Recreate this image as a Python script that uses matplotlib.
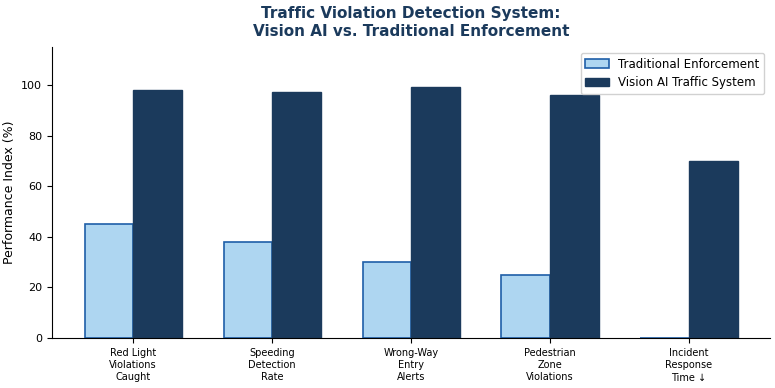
import numpy as np
import matplotlib.pyplot as plt

# Chart data
categories = ["Red Light\nViolations\nCaught", "Speeding\nDetection\nRate",
              "Wrong-Way\nEntry\nAlerts", "Pedestrian\nZone\nViolations",
              "Incident\nResponse\nTime \u2193"]
traditional = [45, 38, 30, 25, 0]
vision_ai = [98, 97, 99, 96, 70]

x = np.arange(len(categories))
width = 0.35

fig = plt.figure(figsize=(7.75, 3.88), dpi=100)
ax = fig.add_axes([0.067, 0.129, 0.927, 0.75])

ax.bar(x - width / 2, traditional, width, color="#aed6f1", edgecolor="#1f5fa8",
       linewidth=1.2, label="Traditional Enforcement")
ax.bar(x + width / 2, vision_ai, width, color="#1b3a5c", edgecolor="#1b3a5c",
       linewidth=1.0, label="Vision AI Traffic System")

ax.set_xticks(x)
ax.set_xticklabels(categories, fontsize=7, linespacing=1.3)
ax.tick_params(axis="y", labelsize=8)
ax.set_ylim(0, 115)
ax.set_ylabel("Performance Index (%)", fontsize=9)
ax.set_title("Traffic Violation Detection System:\nVision AI vs. Traditional Enforcement",
             fontsize=11, fontweight="bold", color="#1b3a5c", pad=8)
ax.spines["top"].set_visible(False)
ax.spines["right"].set_visible(False)
ax.legend(loc="upper right", fontsize=8.5, framealpha=0.9)

fig.savefig("out.png", dpi=100)
